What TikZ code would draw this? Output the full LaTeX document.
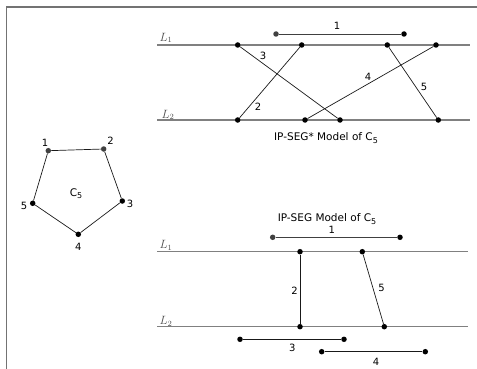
\documentclass[tikz,border=0pt]{standalone}
\usepackage{fontspec}
\setmainfont{DejaVu Sans}
\newcommand{\cfive}{C\raisebox{-0.45ex}{\fontsize{8}{8}\selectfont 5}}
\begin{document}
\begin{tikzpicture}[x=1pt,y=-1pt,
  dot/.style={circle,fill=black,inner sep=0pt,minimum size=5.5pt},
  gdot/.style={circle,fill=black!75,inner sep=0pt,minimum size=5.5pt},
  lbl/.style={inner sep=0pt,font=\fontsize{10}{11}\selectfont},
  captxt/.style={inner sep=0pt,font=\fontsize{10.5}{12}\selectfont},
  rail/.style={draw=black!50,line width=1.3pt},
  conn/.style={draw=black!90,line width=0.7pt},
  llab/.style={inner sep=0pt,text=black!70,font=\fontsize{12}{13}\selectfont}]
\useasboundingbox (0,0) rectangle (477,369);
% frame
\draw[black!55,line width=1.4pt] (6.5,369) -- (6.5,7) -- (477,7);

% ---------- top: IP-SEG* model ----------
\coordinate (t1a) at (157,45); \coordinate (t1b) at (470,45);
\coordinate (t2a) at (157,120); \coordinate (t2b) at (470,120);
\draw[rail] (t1a) -- (t1b);
\draw[rail] (t2a) -- (t2b);
\node[llab] (tL1) at (166,38) {$L_1$};
\node[llab] (tL2) at (168,115) {$L_2$};

\node[gdot] (ts1a) at (276,34) {};
\node[dot] (ts1b) at (404,34) {};
\draw[conn,black!75] (ts1a) -- (ts1b);
\node[lbl] (tl1) at (337,26) {1};

\node[dot] (ua) at (237.7,45) {};
\node[dot] (ub) at (301.7,45) {};
\node[dot] (uc) at (387.3,45) {};
\node[dot] (ud) at (436,45) {};
\node[dot] (va) at (237.7,120) {};
\node[dot] (vb) at (305,120) {};
\node[dot] (vc) at (340,120) {};
\node[dot] (vd) at (438.3,120) {};
\draw[conn] (ua) -- (vc);
\draw[conn] (ub) -- (va);
\draw[conn] (ud) -- (vb);
\draw[conn] (uc) -- (vd);
\node[lbl] (tl3) at (263,56) {3};
\node[lbl] (tl2) at (258,107) {2};
\node[lbl] (tl4) at (368,77) {4};
\node[lbl] (tl5) at (424,87) {5};
\node[captxt] (tcap) at (326,138) {IP-SEG* Model of \cfive};

% ---------- pentagon C5 ----------
\node[gdot] (p1) at (48.3,150.7) {};
\node[gdot] (p2) at (103.7,149) {};
\node[dot] (p3) at (122.3,201) {};
\node[dot] (p4) at (78.3,234.3) {};
\node[dot] (p5) at (32.7,203.3) {};
\draw[conn] (p1) -- (p2) -- (p3) -- (p4) -- (p5) -- (p1);
\node[lbl] (pl1) at (45,142.5) {1};
\node[lbl] (pl2) at (110.5,141) {2};
\node[lbl] (pl3) at (130,204) {3};
\node[lbl] (pl4) at (78.3,246.5) {4};
\node[lbl] (pl5) at (24,206) {5};
\node[captxt] (pc) at (76,193.5) {\cfive};

% ---------- bottom: IP-SEG model ----------
\node[captxt] (bcap) at (327,219) {IP-SEG Model of \cfive};
\coordinate (b1a) at (157,251.7); \coordinate (b1b) at (468,251.7);
\coordinate (b2a) at (157,326.7); \coordinate (b2b) at (468,326.7);
\draw[rail] (b1a) -- (b1b);
\draw[rail] (b2a) -- (b2b);
\node[llab] (bL1) at (166,245) {$L_1$};
\node[llab] (bL2) at (166,321) {$L_2$};

\node[gdot] (bs1a) at (272.7,237.3) {};
\node[dot] (bs1b) at (400,237.3) {};
\draw[conn,black!75] (bs1a) -- (bs1b);
\node[lbl] (bl1) at (331.7,230) {1};

\node[dot] (wa) at (300,251.7) {};
\node[dot] (wb) at (362.3,251.7) {};
\node[dot] (xa) at (300,326.7) {};
\node[dot] (xb) at (384.3,326.7) {};
\draw[conn] (wa) -- (xa);
\draw[conn] (wb) -- (xb);
\node[lbl] (bl2) at (294.5,290.7) {2};
\node[lbl] (bl5) at (381.5,288.3) {5};

\node[dot] (bs3a) at (240,339.3) {};
\node[dot] (bs3b) at (344,339.3) {};
\draw[conn] (bs3a) -- (bs3b);
\node[lbl] (bl3) at (292.3,347.5) {3};
\node[dot] (bs4a) at (321.7,351.7) {};
\node[dot] (bs4b) at (425.3,351.7) {};
\draw[conn] (bs4a) -- (bs4b);
\node[lbl] (bl4) at (376,361.7) {4};
\end{tikzpicture}
\end{document}
